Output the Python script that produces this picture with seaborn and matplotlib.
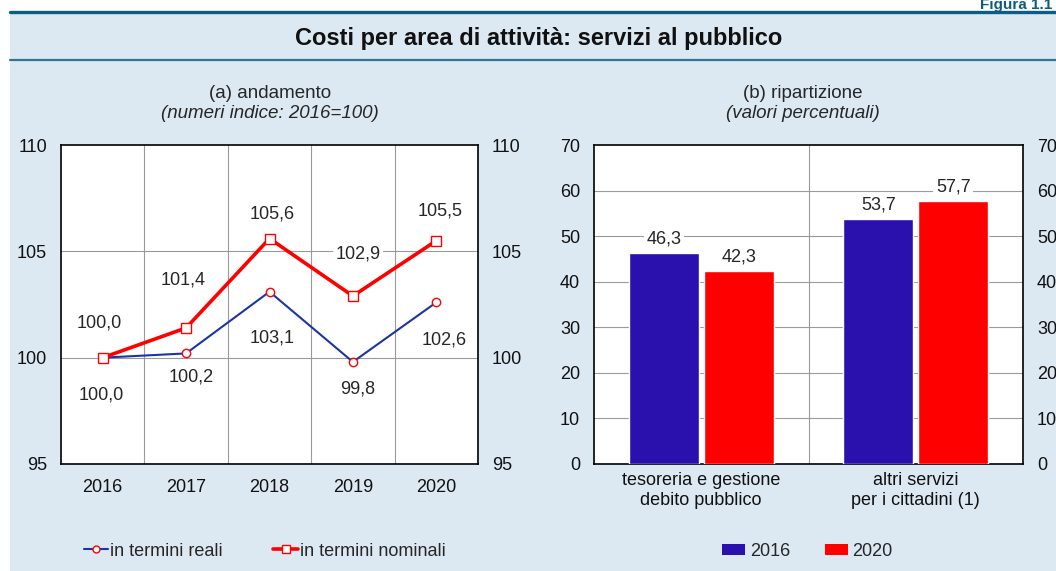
import numpy as np
import pandas as pd
import matplotlib
matplotlib.use("Agg")
import matplotlib.pyplot as plt
import seaborn as sns
from matplotlib.lines import Line2D
from matplotlib.patches import Rectangle, Patch

# -----------------------------
# Data
# -----------------------------
years = ["2016", "2017", "2018", "2019", "2020"]
reali = [100.0, 100.2, 103.1, 99.8, 102.6]
nominali = [100.0, 101.4, 105.6, 102.9, 105.5]

categorie = ["tesoreria e gestione\ndebito pubblico", "altri servizi\nper i cittadini (1)"]
quota_2016 = [46.3, 53.7]
quota_2020 = [42.3, 57.7]

# label offsets in pixels (layout only)
off_nom = [(-3, 35), (-3, 48), (3, 25), (5, 42), (4, 30)]
off_real = [(-1, -37), (5, -24), (3, -46), (5, -27), (8, -38)]

BLUE_LINE = "#1c35a0"
RED = "#ff0000"
BAR_BLUE = "#2a10ac"
PANEL = "#dde9f2"
TEAL = "#0d5c83"
FS = 13

sns.set_theme(style="white")
plt.rcParams["font.family"] = ["Liberation Sans", "DejaVu Sans"]

fig = plt.figure(figsize=(10.56, 5.71), dpi=100)
fig.patch.set_facecolor("white")

W, H = 1056, 571
def fx(px): return px / W
def fy(py): return 1 - py / H

fig.patches.append(Rectangle((fx(10), 0), 1 - fx(10), fy(12), transform=fig.transFigure,
                             facecolor=PANEL, edgecolor="none", zorder=-10))
fig.add_artist(Line2D([fx(10), 1], [fy(12), fy(12)], transform=fig.transFigure, color=TEAL, lw=2.4))
fig.add_artist(Line2D([fx(10), 1], [fy(60), fy(60)], transform=fig.transFigure, color="#2f7597", lw=1.6))

fig.text(fx(1052), fy(9.5), "Figura 1.1", ha="right", va="baseline", fontsize=11,
         fontweight="bold", color=TEAL)
fig.text(fx(539), fy(38), "Costi per area di attività: servizi al pubblico", ha="center",
         va="center", fontsize=17, fontweight="bold", color="#111111")

fig.text(fx(270), fy(93), "(a) andamento", ha="center", va="center", fontsize=13.5)
fig.text(fx(270), fy(113), "(numeri indice: 2016=100)", ha="center", va="center",
         fontsize=13.5, style="italic")
fig.text(fx(803), fy(93), "(b) ripartizione", ha="center", va="center", fontsize=13.5)
fig.text(fx(803), fy(113), "(valori percentuali)", ha="center", va="center",
         fontsize=13.5, style="italic")

# -----------------------------
# (a) line chart
# -----------------------------
ax1 = fig.add_axes([fx(61), fy(464), fx(478) - fx(61), fy(145) - fy(464)])
df_line = pd.DataFrame({"x": np.arange(len(years)), "reali": reali, "nominali": nominali})

sns.lineplot(data=df_line, x="x", y="reali", ax=ax1, color=BLUE_LINE, lw=1.5,
             marker="o", markersize=6, markerfacecolor="white", markeredgecolor=RED,
             markeredgewidth=1.0, zorder=3)
sns.lineplot(data=df_line, x="x", y="nominali", ax=ax1, color=RED, lw=2.6,
             marker="s", markersize=6.5, markerfacecolor="white", markeredgecolor=RED,
             markeredgewidth=1.0, zorder=4)

ax1.set_xlim(-0.5, len(years) - 0.5)
ax1.set_ylim(95, 110)
ax1.set_xticks(range(len(years)))
ax1.set_xticklabels(years)
ax1.set_yticks([95, 100, 105, 110])
ax1.set_xlabel("")
ax1.set_ylabel("")
for xv in np.arange(0.5, len(years) - 0.5, 1):
    ax1.axvline(xv, color="#9a9a9a", lw=0.8, zorder=1)
for yv in [100, 105]:
    ax1.axhline(yv, color="#9a9a9a", lw=0.8, zorder=1)

fmt = lambda v: f"{v:.1f}".replace(".", ",")
box = dict(boxstyle="square,pad=0.15", facecolor="white", edgecolor="none")
for i, v in enumerate(nominali):
    ax1.annotate(fmt(v), (i, v), xytext=off_nom[i], textcoords="offset pixels",
                 ha="center", va="center", fontsize=FS, bbox=box, zorder=5)
for i, v in enumerate(reali):
    ax1.annotate(fmt(v), (i, v), xytext=off_real[i], textcoords="offset pixels",
                 ha="center", va="center", fontsize=FS, bbox=box, zorder=5)

# -----------------------------
# (b) bar chart
# -----------------------------
ax2 = fig.add_axes([fx(594), fy(464), fx(1023) - fx(594), fy(145) - fy(464)])
df_bar = pd.DataFrame({
    "categoria": categorie * 2,
    "anno": ["2016"] * len(categorie) + ["2020"] * len(categorie),
    "valore": quota_2016 + quota_2020,
})
sns.barplot(data=df_bar, x="categoria", y="valore", hue="anno", ax=ax2,
            palette={"2016": BAR_BLUE, "2020": RED}, width=0.7, gap=0.07,
            saturation=1, legend=False, zorder=3)
for cont in ax2.containers:
    ax2.bar_label(cont, labels=[fmt(b.get_height()) for b in cont], padding=4,
                  fontsize=FS, bbox=box, zorder=5)

ax2.set_xlim(-0.5, 1.5)
ax2.set_ylim(0, 70)
ax2.set_yticks(range(0, 71, 10))
ax2.set_xlabel("")
ax2.set_ylabel("")
ax2.axvline(0.5, color="#9a9a9a", lw=0.8, zorder=1)
for yv in range(10, 70, 10):
    ax2.axhline(yv, color="#9a9a9a", lw=0.8, zorder=1)

for ax in (ax1, ax2):
    ax.set_facecolor("white")
    for sp in ax.spines.values():
        sp.set_visible(True)
        sp.set_color("black")
        sp.set_linewidth(1.2)
    ax.tick_params(axis="y", length=0, pad=10, labelsize=FS, labelright=True,
                   labelcolor="#111111")
    ax.tick_params(axis="x", length=0, labelsize=FS, labelcolor="#111111")
ax1.tick_params(axis="x", pad=11)
ax2.tick_params(axis="x", pad=6)

# -----------------------------
# Legends
# -----------------------------
h_real = Line2D([], [], color=BLUE_LINE, lw=1.5, marker="o", markersize=5,
                markerfacecolor="white", markeredgecolor=RED)
h_nom = Line2D([], [], color=RED, lw=2.6, marker="s", markersize=5.5,
               markerfacecolor="white", markeredgecolor=RED)
fig.legend([h_real, h_nom], ["in termini reali", "in termini nominali"],
           loc="center left", bbox_to_anchor=(fx(84), fy(551)), ncol=2, frameon=False,
           fontsize=FS, handlelength=1.35, handletextpad=0.1, columnspacing=2.8,
           borderaxespad=0, borderpad=0)
h16 = Patch(facecolor=BAR_BLUE, edgecolor="none")
h20 = Patch(facecolor=RED, edgecolor="none")
fig.legend([h16, h20], ["2016", "2020"], loc="center left",
           bbox_to_anchor=(fx(722), fy(551)), ncol=2, frameon=False, fontsize=FS,
           handlelength=1.3, handleheight=0.55, handletextpad=0.25, columnspacing=1.9,
           borderaxespad=0, borderpad=0)

fig.savefig("out.png", dpi=100, facecolor=fig.get_facecolor())
